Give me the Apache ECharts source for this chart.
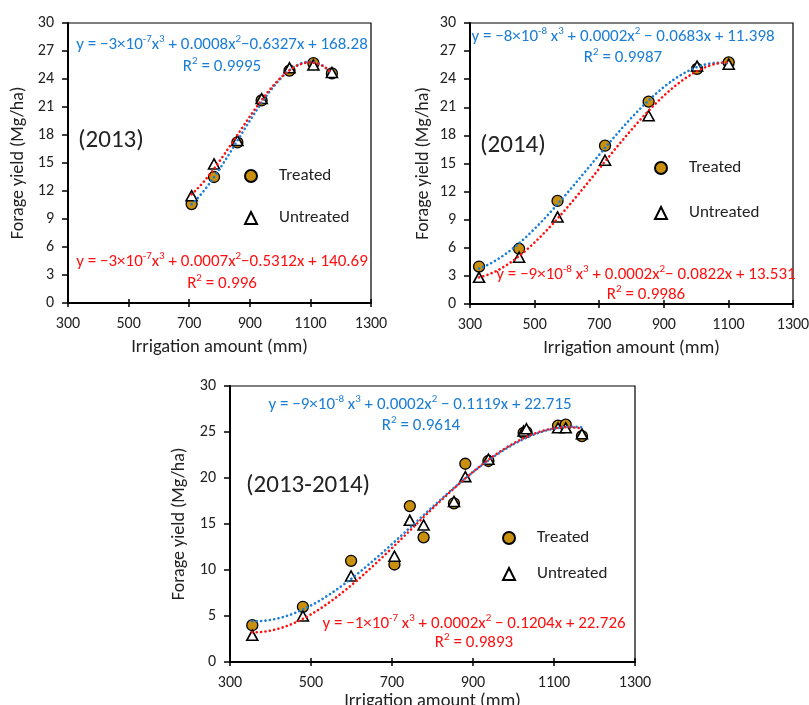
<!DOCTYPE html>
<html>
<head>
<meta charset="utf-8">
<script src="https://cdn.jsdelivr.net/npm/echarts@6/dist/echarts.min.js"></script>
<style>html,body{margin:0;padding:0;background:#fff}#c{width:809px;height:705px}</style>
</head>
<body>
<div id="c"></div>
<script>
// ---------- data ----------
var x2013 = [708, 782, 859, 939, 1031, 1110, 1171];
var treated2013 = [10.6, 13.5, 17.2, 21.7, 24.9, 25.7, 24.6];
var untreated2013 = [11.5, 14.9, 17.4, 21.9, 25.2, 25.5, 24.7];

var x2014 = [328, 452, 571, 718, 853, 1003, 1101];
var treated2014 = [4.0, 5.9, 11.0, 16.9, 21.6, 25.1, 25.8];
var untreated2014 = [2.85, 5.0, 9.3, 15.35, 20.1, 25.4, 25.6];

var xBoth = [355, 480, 599, 706, 744, 778, 853, 881, 938, 1025, 1032, 1110, 1129, 1169];
var treatedBoth = [4.0, 6.0, 11.0, 10.6, 16.95, 13.55, 17.25, 21.55, 21.85, 24.9, 25.0, 25.7, 25.8, 24.55];
var untreatedBoth = [2.9, 5.0, 9.35, 11.5, 15.4, 14.9, 17.45, 20.15, 22.05, 25.1, 25.35, 25.45, 25.45, 24.8];

var panelLabels = ['(2013)', '(2014)', '(2013-2014)'];
var eqTreated = [
  'y = −3×10^{-7}x^{3} + 0.0008x^{2}−0.6327x + 168.28',
  'y = −8×10^{-8} x^{3} + 0.0002x^{2} − 0.0683x + 11.398',
  'y = −9×10^{-8} x^{3} + 0.0002x^{2} − 0.1119x + 22.715'
];
var r2Treated = ['R^{2} = 0.9995', 'R^{2} = 0.9987', 'R^{2} = 0.9614'];
var eqUntreated = [
  'y = −3×10^{-7}x^{3} + 0.0007x^{2}−0.5312x + 140.69',
  'y = −9×10^{-8} x^{3} + 0.0002x^{2}− 0.0822x + 13.531',
  'y = −1×10^{-7} x^{3} + 0.0002x^{2} − 0.1204x + 22.726'
];
var r2Untreated = ['R^{2} = 0.996', 'R^{2} = 0.9986', 'R^{2} = 0.9893'];

// ---------- helpers ----------
var FONT = 'Carlito, Calibri, Lato, sans-serif';
var GOLD = '#C8900E', BLUE = '#1A7DD6', RED = '#FF1010';

function cubicFit(xs, ys) {
  var n = xs.length, mx = 0, sd = 0, i, j, k;
  for (i = 0; i < n; i++) mx += xs[i]; mx /= n;
  for (i = 0; i < n; i++) sd += (xs[i] - mx) * (xs[i] - mx); sd = Math.sqrt(sd / n);
  var A = [], b = [0, 0, 0, 0];
  for (i = 0; i < 4; i++) { A.push([0, 0, 0, 0]); }
  for (k = 0; k < n; k++) {
    var u = (xs[k] - mx) / sd, p = [1, u, u * u, u * u * u];
    for (i = 0; i < 4; i++) { b[i] += p[i] * ys[k]; for (j = 0; j < 4; j++) A[i][j] += p[i] * p[j]; }
  }
  for (i = 0; i < 4; i++) {
    var piv = i;
    for (j = i + 1; j < 4; j++) if (Math.abs(A[j][i]) > Math.abs(A[piv][i])) piv = j;
    var t = A[i]; A[i] = A[piv]; A[piv] = t; var tb = b[i]; b[i] = b[piv]; b[piv] = tb;
    for (j = i + 1; j < 4; j++) {
      var f = A[j][i] / A[i][i];
      for (k = i; k < 4; k++) A[j][k] -= f * A[i][k];
      b[j] -= f * b[i];
    }
  }
  var c = [0, 0, 0, 0];
  for (i = 3; i >= 0; i--) { var s = b[i]; for (j = i + 1; j < 4; j++) s -= A[i][j] * c[j]; c[i] = s / A[i][i]; }
  return function (x) { var u = (x - mx) / sd; return c[0] + c[1] * u + c[2] * u * u + c[3] * u * u * u; };
}
function trend(xs, ys) {
  var f = cubicFit(xs, ys), lo = Math.min.apply(null, xs), hi = Math.max.apply(null, xs), out = [];
  for (var i = 0; i <= 120; i++) { var x = lo + (hi - lo) * i / 120; out.push([x, f(x)]); }
  return out;
}
function pairs(xs, ys) { return xs.map(function (x, i) { return [x, ys[i]]; }); }
function richText(s) { return s.replace(/\^\{([^}]*)\}/g, function (m, g) { return '{s|' + g + '}'; }).replace(/(^|\})([^{]+)/g, function (m, a, t) { return a + '{n|' + t + '}'; }); }

var grids = [
  { left: 68, top: 23, width: 303, height: 280 },
  { left: 470, top: 23, width: 323, height: 281 },
  { left: 230, top: 386, width: 405, height: 276 }
];
var yIntervals = [3, 3, 5];
var xNameGaps = [35, 35, 26];
var yNameGaps = [41, 38, 41];

var xAxes = [], yAxes = [], series = [], legends = [], graphics = [];
var sets = [[x2013, treated2013, untreated2013], [x2014, treated2014, untreated2014], [xBoth, treatedBoth, untreatedBoth]];

grids.forEach(function (g, i) {
  g.show = true; g.borderColor = '#000'; g.borderWidth = 1.2;
  g.containLabel = false; g.outerBoundsMode = 'none';
  xAxes.push({
    type: 'value', gridIndex: i, min: 300, max: 1300, interval: 200, position: 'bottom',
    name: 'Irrigation amount (mm)', nameLocation: 'middle', nameGap: xNameGaps[i],
    nameTextStyle: { fontFamily: FONT, fontSize: 18.5, color: '#222' },
    axisLine: { show: true, onZero: false, lineStyle: { color: '#000', width: 2 } },
    axisTick: { show: true, inside: false, length: 4, lineStyle: { color: '#000', width: 1.5 } },
    axisLabel: { fontFamily: FONT, fontSize: 16, color: '#222', margin: 13, hideOverlap: false, formatter: function (v) { return String(v); } },
    splitLine: { show: false }
  });
  xAxes.push({
    type: 'value', gridIndex: i, min: 300, max: 1300, interval: 200, position: 'bottom',
    axisLine: { show: false }, axisLabel: { show: false }, splitLine: { show: false },
    axisTick: { show: true, inside: true, length: 4, lineStyle: { color: '#000', width: 1.5 } }
  });
  yAxes.push({
    type: 'value', gridIndex: i, min: 0, max: 30, interval: yIntervals[i],
    name: 'Forage yield (Mg/ha)', nameLocation: 'middle', nameGap: yNameGaps[i],
    nameTextStyle: { fontFamily: FONT, fontSize: 18, color: '#222' },
    axisLine: { show: true, onZero: false, lineStyle: { color: '#000', width: 2 } },
    axisTick: { show: true, length: 6, lineStyle: { color: '#000', width: 1.5 } },
    axisLabel: { fontFamily: FONT, fontSize: 16, color: '#222', margin: 14 },
    splitLine: { show: false }
  });
  var d = sets[i];
  series.push({
    name: 'Treated', type: 'scatter', xAxisIndex: 2 * i, yAxisIndex: i, data: pairs(d[0], d[1]),
    symbol: 'circle', symbolSize: 11, z: 2,
    itemStyle: { color: GOLD, borderColor: '#000', borderWidth: 1.3, opacity: 1 }
  });
  series.push({
    name: 'Untreated', type: 'scatter', xAxisIndex: 2 * i, yAxisIndex: i, data: pairs(d[0], d[2]),
    symbol: 'triangle', symbolSize: [11, 10], z: 3,
    itemStyle: { color: '#fff', borderColor: '#000', borderWidth: 1.6, opacity: 1 }
  });
  series.push({
    name: 'Treated trend', type: 'line', xAxisIndex: 2 * i, yAxisIndex: i, data: trend(d[0], d[1]),
    showSymbol: false, symbol: 'none', silent: true, z: 5, animation: false,
    lineStyle: { color: BLUE, width: 2.6, type: [0.1, 4.3], cap: 'round' }
  });
  series.push({
    name: 'Untreated trend', type: 'line', xAxisIndex: 2 * i, yAxisIndex: i, data: trend(d[0], d[2]),
    showSymbol: false, symbol: 'none', silent: true, z: 6, animation: false,
    lineStyle: { color: RED, width: 2.6, type: [0.1, 4.3], cap: 'round' }
  });
});

var legendPos = [[250, 176, 42], [660, 168, 45], [508, 538, 36]];
legendPos.forEach(function (p) {
  legends.push({
    data: ['Treated', 'Untreated'], orient: 'vertical', selectedMode: false, padding: 0,
    left: p[0] - 6, top: p[1] - 8.5, itemWidth: 12, itemHeight: 12, itemGap: p[2] - 17,
    textStyle: { fontFamily: FONT, fontSize: 17, color: '#222', padding: [0, 0, 0, 17] }
  });
});

var labelPos = [[78, 142], [480, 147], [246, 487]];
labelPos.forEach(function (p, i) {
  graphics.push({ type: 'text', left: p[0], top: p[1] - 14, style: { text: panelLabels[i], font: '25px ' + FONT, fill: '#222' } });
});

function eqText(s, cx, cy, color) {
  return {
    type: 'text', x: cx, y: cy,
    style: {
      text: richText(s), textAlign: 'center', textVerticalAlign: 'middle', fill: color,
      rich: {
        n: { fontFamily: FONT, fontSize: 17, fill: color, color: color, lineHeight: 20, verticalAlign: 'bottom' },
        s: { fontFamily: FONT, fontSize: 11, fill: color, color: color, lineHeight: 20, verticalAlign: 'top', padding: [1, 0, 0, 0] }
      }
    }
  };
}
var eqPos = [
  [[222, 43], [222, 65], [222, 260], [222, 282]],
  [[623, 35], [623, 56], [646, 273], [646, 293]],
  [[420, 403], [421, 424], [474, 622], [474, 641]]
];
eqPos.forEach(function (p, i) {
  graphics.push(eqText(eqTreated[i], p[0][0], p[0][1], BLUE));
  graphics.push(eqText(r2Treated[i], p[1][0], p[1][1], BLUE));
  graphics.push(eqText(eqUntreated[i], p[2][0], p[2][1], RED));
  graphics.push(eqText(r2Untreated[i], p[3][0], p[3][1], RED));
});

var chart = echarts.init(document.getElementById('c'), null, { renderer: 'canvas' });
chart.setOption({
  animation: false,
  backgroundColor: '#fff',
  grid: grids, xAxis: xAxes, yAxis: yAxes, series: series, legend: legends, graphic: graphics
});
</script>
</body>
</html>
